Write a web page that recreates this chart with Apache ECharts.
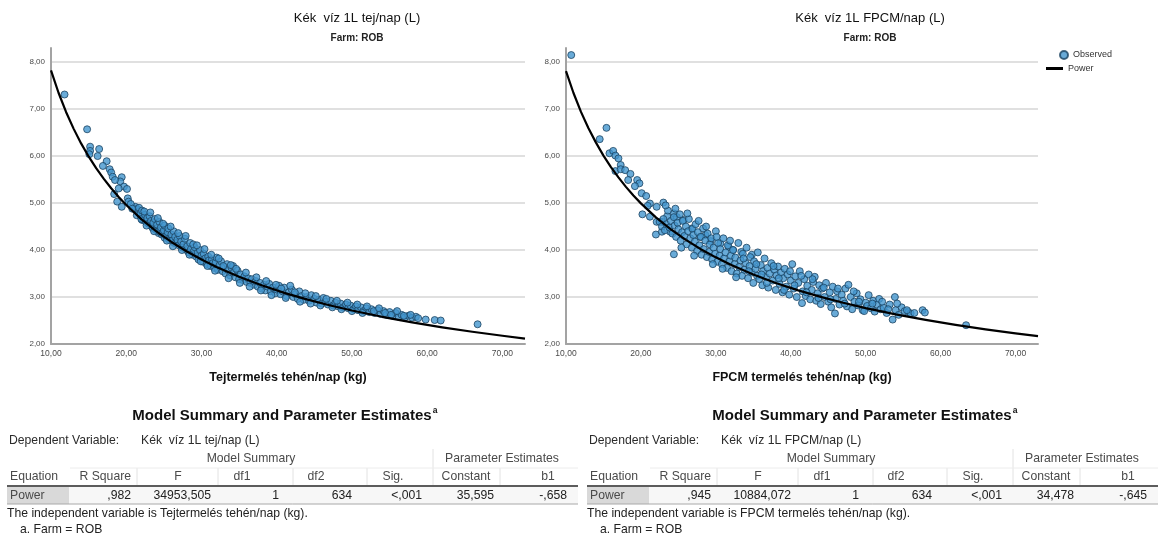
<!DOCTYPE html>
<html><head><meta charset="utf-8">
<script src="https://cdn.jsdelivr.net/npm/echarts@6/dist/echarts.min.js"></script>
<style>html,body{margin:0;padding:0;background:#fff}#c{width:1162px;height:558px}</style>
</head><body><div id="c"></div>
<script>
// ---------------- DATA ----------------
const leftChartTitle = 'Kék  víz 1L tej/nap (L)';
const rightChartTitle = 'Kék  víz 1L FPCM/nap (L)';
const farmLabel = 'Farm: ROB';
const leftXName = 'Tejtermelés tehén/nap (kg)';
const rightXName = 'FPCM termelés tehén/nap (kg)';
const xTicks = [10, 20, 30, 40, 50, 60, 70];
const yTicks = [2, 3, 4, 5, 6, 7, 8];
const legendNames = ['Observed', 'Power'];

const tejObserved = [
 [11.8,7.31],[14.8,6.57],[15.2,6.20],[15.2,6.11],[15.1,6.04],[16.4,6.15],[16.2,6.00],[17.4,5.89],[16.9,5.79],[17.8,5.72],
 [18.0,5.65],[18.2,5.56],[19.4,5.55],[19.2,5.46],[18.5,5.49],[19.7,5.35],[20.1,5.30],[19.0,5.31],[18.4,5.19],[18.8,5.03],
 [19.4,4.92],[20.2,5.10],[20.3,5.03],[21.0,4.89],[21.2,4.92],[21.5,4.87],[21.4,4.74],[21.9,4.74],[22.2,4.74],[22.1,4.64],
 [22.3,4.64],[22.9,4.57],[23.4,4.50],[23.5,4.47],[23.9,4.43],[24.3,4.36],[24.7,4.33],[25.1,4.26],[25.7,4.22],[26.4,4.15],
 [20.6,4.98],[20.8,4.88],[21.7,4.90],[21.9,4.78],[22.0,4.66],[22.1,4.84],[22.5,4.75],[22.6,4.60],[22.8,4.68],[23.0,4.56],
 [23.1,4.72],[23.3,4.62],[23.6,4.58],[23.8,4.66],[24.0,4.45],[24.1,4.54],[24.3,4.40],[24.4,4.60],[24.6,4.48],[24.8,4.36],
 [25.0,4.42],[25.1,4.52],[25.3,4.30],[25.5,4.38],[25.6,4.46],[25.8,4.25],[26.0,4.33],[26.1,4.20],[26.3,4.40],[26.5,4.28],
 [26.6,4.15],[26.8,4.22],[27.0,4.10],[27.1,4.30],[27.3,4.18],[27.5,4.05],[27.6,4.12],[27.8,4.24],[28.0,4.00],[28.1,4.08],
 [28.3,3.95],[28.5,4.15],[28.6,4.02],[28.8,3.90],[29.0,3.98],[29.1,4.06],[29.3,3.86],[29.5,3.94],[29.6,3.80],[29.8,4.00],
 [30.0,3.88],[30.2,3.75],[30.3,3.92],[30.5,3.82],[30.7,3.70],[30.9,3.86],[31.0,3.78],[31.2,3.66],[31.4,3.80],[31.5,3.72],
 [31.7,3.62],[31.9,3.74],[32.0,3.84],[32.2,3.58],[32.4,3.68],[32.6,3.76],[32.8,3.55],[33.0,3.64],[33.2,3.50],[33.4,3.70],
 [33.5,3.58],[33.8,3.46],[34.0,3.62],[34.2,3.66],[34.3,3.52],[34.5,3.42],[34.8,3.56],[35.0,3.38],[35.2,3.48],[35.5,3.36],
 [35.7,3.44],[36.0,3.32],[36.2,3.40],[36.5,3.30],[36.7,3.38],[37.0,3.26],[37.2,3.34],[37.5,3.22],[37.8,3.30],[38.0,3.18],
 [38.3,3.26],[38.5,3.14],[38.8,3.22],[39.0,3.28],[39.2,3.12],[39.5,3.20],[39.8,3.08],[40.0,3.16],[40.3,3.24],[40.5,3.06],
 [40.8,3.12],[41.0,3.20],[41.3,3.02],[41.6,3.10],[42.0,3.16],[42.2,3.00],[42.5,3.06],[42.8,2.96],[43.0,3.12],[43.3,3.02],
 [43.6,2.94],[44.0,3.00],[44.3,2.92],[44.6,3.04],[45.0,2.96],[45.3,2.88],[45.6,2.94],[46.0,2.86],[46.2,2.98],[46.5,2.90],
 [46.8,2.84],[47.2,2.92],[47.5,2.82],[47.8,2.88],[48.2,2.80],[48.5,2.86],[48.8,2.78],[49.2,2.84],[49.5,2.76],[49.8,2.82],
 [50.2,2.74],[50.5,2.80],[50.8,2.72],[51.2,2.78],[51.5,2.70],[51.9,2.76],[52.3,2.68],[52.6,2.74],[53.0,2.66],[53.4,2.72],
 [53.8,2.64],[54.2,2.70],[54.6,2.62],[55.0,2.68],[55.4,2.60],[55.8,2.66],[56.2,2.58],[56.6,2.62],[57.0,2.56],[57.5,2.60],
 [58.0,2.56],[58.5,2.58],[59.8,2.52],[61.0,2.51],[61.8,2.50],[66.7,2.42],
 [22.4,4.82],[22.7,4.52],[23.2,4.80],[23.7,4.40],[24.2,4.68],[24.9,4.56],[25.4,4.20],[25.9,4.50],[26.2,4.08],[26.9,4.36],
 [27.4,4.00],[27.9,4.30],[28.4,3.90],[28.9,4.12],[29.4,4.10],[29.9,3.76],[30.4,4.02],[30.8,3.66],[31.3,3.90],[31.8,3.56],
 [32.3,3.82],[32.9,3.66],[33.6,3.40],[33.9,3.68],[34.6,3.60],[35.1,3.30],[35.9,3.52],[36.4,3.22],[37.3,3.42],[37.9,3.14],
 [38.6,3.34],[39.3,3.04],[39.9,3.26],[40.6,3.18],[41.2,2.98],[41.8,3.24],[42.4,3.10],[43.1,2.90],[43.8,3.08],[44.5,2.86],
 [45.2,3.02],[45.8,2.82],[46.6,2.96],[47.4,2.78],[48.0,2.92],[48.6,2.74],[49.4,2.88],[50.0,2.70],[50.7,2.84],[51.4,2.66],
 [52.0,2.80],[52.9,2.70],[53.6,2.76],[54.4,2.66],[55.2,2.62],[56.0,2.70],[56.9,2.60],[57.8,2.62],[58.8,2.55]
];
const tejPower = [
 [10,7.824],[11,7.348],[12,6.939],[13,6.584],[14,6.270],[15,5.992],[16,5.743],[17,5.519],[18,5.314],[19,5.129],[20,4.959],
 [22,4.657],[24,4.398],[26,4.172],[28,3.974],[30,3.797],[32,3.640],[35,3.431],[38,3.251],[41,3.089],[44,2.950],[47,2.826],
 [50,2.713],[54,2.579],[58,2.461],[62,2.355],[66,2.261],[70,2.175],[73,2.115]
];

const fpcmObserved = [
 [10.7,8.15],[14.5,6.36],[15.4,6.60],[15.8,6.06],[16.3,6.11],[16.6,6.01],[17.0,5.95],[17.3,5.81],[16.6,5.68],[17.3,5.72],
 [17.9,5.70],[18.6,5.62],[18.3,5.49],[19.5,5.49],[19.8,5.42],[19.2,5.36],[20.1,5.21],[20.7,5.15],[21.2,4.99],[20.9,4.94],
 [22.1,4.92],[23.0,5.01],[20.2,4.76],[21.2,4.71],[22.1,4.60],[22.8,4.60],[23.5,4.72],[24.4,4.78],[24.8,4.70],[25.7,4.64],
 [22.0,4.33],[22.8,4.39],[23.9,4.39],[24.4,3.91],[26.8,4.46],[27.9,4.28],[28.6,4.32],[29.3,4.19],[30.6,4.14],[31.7,4.07],
 [32.3,4.00],[33.4,3.96],[34.8,3.90],
 [22.5,4.60],[22.8,4.50],[23.0,4.66],[23.2,4.42],[23.4,4.55],[23.6,4.84],[23.8,4.48],[24.0,4.62],[24.2,4.35],[24.4,4.70],
 [24.5,4.52],[24.7,4.28],[24.9,4.58],[25.0,4.44],[25.2,4.76],[25.3,4.20],[25.5,4.38],[25.6,4.62],[25.8,4.30],[26.0,4.50],
 [26.1,4.12],[26.3,4.40],[26.4,4.66],[26.6,4.25],[26.8,4.05],[26.9,4.45],[27.0,4.32],[27.2,4.18],[27.3,4.55],[27.5,3.98],
 [27.6,4.38],[27.8,4.10],[28.0,4.28],[28.1,3.90],[28.3,4.46],[28.4,4.02],[28.6,4.20],[28.8,3.85],[28.9,4.35],[29.1,3.96],
 [29.2,4.12],[29.4,4.25],[29.5,3.80],[29.7,4.05],[29.9,3.92],[30.0,4.40],[30.2,3.75],[30.3,4.15],[30.5,3.88],[30.6,4.02],
 [30.8,3.70],[31.0,4.25],[31.1,3.82],[31.3,3.95],[31.5,3.62],[31.6,4.10],[31.8,3.76],[32.0,3.88],[32.1,3.55],[32.3,4.00],
 [32.5,3.70],[32.6,3.84],[32.8,3.50],[33.0,4.15],[33.1,3.64],[33.3,3.78],[33.5,3.45],[33.6,3.92],[33.8,3.58],[34.0,3.72],
 [34.1,4.05],[34.3,3.40],[34.5,3.66],[34.6,3.85],[34.8,3.52],[35.0,3.30],[35.1,3.76],[35.3,3.60],[35.5,3.45],[35.6,3.95],
 [35.8,3.38],[36.0,3.68],[36.2,3.25],[36.3,3.55],[36.5,3.82],[36.7,3.42],[36.9,3.62],[37.0,3.20],[37.2,3.50],[37.4,3.72],
 [37.6,3.35],[37.8,3.58],[38.0,3.15],[38.1,3.46],[38.3,3.65],[38.5,3.28],[38.7,3.52],[38.9,3.10],[39.0,3.40],[39.2,3.60],
 [39.4,3.22],[39.6,3.48],[39.8,3.05],[40.0,3.35],[40.2,3.70],[40.4,3.18],[40.6,3.44],[40.8,3.00],[41.0,3.30],[41.2,3.55],
 [41.5,2.87],[41.6,3.12],[41.8,3.38],[42.0,3.02],[42.2,3.24],[42.4,3.48],[42.6,2.95],[42.8,3.15],[43.0,3.32],[43.2,3.43],
 [43.4,2.92],[43.6,3.08],[43.8,3.25],[44.0,2.85],[44.2,3.18],[44.5,3.00],[44.7,3.30],[45.0,2.90],[45.2,3.10],[45.4,2.78],
 [45.6,3.22],[45.9,2.65],[46.0,2.96],[46.2,3.12],[46.5,2.84],[46.8,3.05],[47.0,2.92],[47.3,3.18],[47.5,2.80],[47.7,3.26],
 [48.0,3.00],[48.2,2.74],[48.5,2.90],[48.8,3.08],[49.0,2.82],[49.3,2.95],[49.6,2.72],[50.0,2.88],[50.2,2.81],[50.4,3.04],
 [50.7,2.76],[51.0,2.92],[51.2,2.69],[51.5,2.84],[51.8,2.96],[52.0,2.74],[52.4,2.77],[52.8,2.66],[53.2,2.84],[53.6,2.52],
 [53.9,3.00],[54.0,2.72],[54.4,2.62],[54.8,2.78],[55.2,2.70],[55.7,2.68],[56.0,2.65],[57.6,2.72],[57.9,2.67],[63.4,2.40],
 [23.3,4.95],[24.6,4.88],[25.4,4.05],[26.2,4.78],[27.1,3.88],[27.7,4.62],[28.7,4.50],[29.6,3.70],[30.1,4.28],[30.9,3.60],
 [31.9,4.20],[32.7,3.42],[33.7,3.82],[34.4,3.55],[35.4,3.70],[36.1,3.48],[36.8,3.30],[37.7,3.66],[38.4,3.40],[39.1,3.15],
 [39.9,3.55],[40.5,3.25],[41.4,3.45],[42.1,3.10],[42.9,3.38],[43.7,2.98],[44.4,3.20],[45.3,2.95],[46.3,3.18],[47.2,2.86],
 [48.4,3.12],[49.1,2.90],[49.8,2.70],[50.9,2.86],[52.2,2.90],[53.0,2.74],[54.2,2.86],[55.5,2.72],[56.5,2.66]
];
const fpcmPower = [
 [10,7.807],[11,7.342],[12,6.940],[13,6.592],[14,6.286],[15,6.010],[16,5.766],[17,5.545],[18,5.344],[19,5.161],[20,4.993],
 [22,4.695],[24,4.439],[26,4.216],[28,4.018],[30,3.844],[32,3.687],[35,3.480],[38,3.300],[41,3.142],[44,3.002],[47,2.877],
 [50,2.765],[54,2.631],[58,2.512],[62,2.407],[66,2.311],[70,2.225],[73,2.166]
];

// table texts
const tableTitle = 'Model Summary and Parameter Estimates';
const tableTitleNote = 'a';
const tableGroupHeaders = ['Model Summary', 'Parameter Estimates'];
const tableHeaders = ['Equation', 'R Square', 'F', 'df1', 'df2', 'Sig.', 'Constant', 'b1'];
const dependentLabel = 'Dependent Variable:';
const leftDependent = 'Kék  víz 1L tej/nap (L)';
const rightDependent = 'Kék  víz 1L FPCM/nap (L)';
const leftRow = ['Power', ',982', '34953,505', '1', '634', '<,001', '35,595', '-,658'];
const rightRow = ['Power', ',945', '10884,072', '1', '634', '<,001', '34,478', '-,645'];
const leftNote = 'The independent variable is Tejtermelés tehén/nap (kg).';
const rightNote = 'The independent variable is FPCM termelés tehén/nap (kg).';
const footNote = 'a. Farm = ROB';

// ---------------- CHART ----------------
const FONT = '"Liberation Sans", Arial, sans-serif';
const fmt = v => v.toFixed(2).replace('.', ',');

function xAxisCfg(gi, name) {
  return {
    gridIndex: gi, type: 'value', min: 10, max: 73, interval: 10,
    axisLine: { show: true, onZero: false, lineStyle: { color: '#a3a3a3', width: 2 } },
    axisTick: { show: false }, splitLine: { show: false },
    axisLabel: { formatter: v => xTicks.includes(v) ? fmt(v) : '', color: '#4a4a4a', fontSize: 8.5, fontFamily: FONT, margin: 5, showMaxLabel: false },
    name: name, nameLocation: 'middle', nameGap: 27,
    nameTextStyle: { color: '#111', fontSize: 12.5, fontWeight: 'bold', fontFamily: FONT }
  };
}
function yAxisCfg(gi) {
  return {
    gridIndex: gi, type: 'value', min: 2, max: 8.3, interval: 1,
    axisLine: { show: true, onZero: false, lineStyle: { color: '#a3a3a3', width: 2 } },
    axisTick: { show: false },
    splitLine: { show: true, showMinLine: false, showMaxLine: false, lineStyle: { color: '#d6d6d6', width: 1.5 } },
    axisLabel: { formatter: v => yTicks.includes(v) ? fmt(v) : '', color: '#4a4a4a', fontSize: 8, fontFamily: FONT, margin: 6, showMaxLabel: false }
  };
}
const scatterStyle = { color: '#4496ce', borderColor: '#1c4361', borderWidth: 1 };
function scatter(xi, data) {
  return { name: legendNames[0], type: 'scatter', xAxisIndex: xi, yAxisIndex: xi, data: data,
    symbol: 'circle', symbolSize: 7, itemStyle: scatterStyle, z: 2, silent: true };
}
function curve(xi, data) {
  return { name: legendNames[1], type: 'line', xAxisIndex: xi, yAxisIndex: xi, data: data,
    smooth: false, showSymbol: false, symbol: 'none',
    lineStyle: { color: '#000', width: 2.2, join: 'round' }, itemStyle: { color: '#000' }, z: 3, silent: true };
}

const measureCtx = document.createElement('canvas').getContext('2d');
function textWidth(text, size, weight) {
  measureCtx.font = (weight || 'normal') + ' ' + size + 'px ' + FONT;
  return measureCtx.measureText(text).width;
}
function txt(x, y, text, size, opts) {
  opts = opts || {};
  return { type: 'text', x: x, y: y, silent: true, z: 10,
    style: { text: text, fill: opts.color || '#2b2b2b', fontSize: size, fontFamily: FONT,
      fontWeight: opts.weight || 'normal', align: opts.align || 'left', verticalAlign: 'middle' } };
}
function rect(x, y, w, h, color) {
  return { type: 'rect', shape: { x: x, y: y, width: w, height: h }, style: { fill: color }, silent: true, z: 5 };
}
function hline(x1, x2, y, color, w) {
  return { type: 'line', shape: { x1: x1, y1: y, x2: x2, y2: y }, style: { stroke: color, lineWidth: w }, silent: true, z: 6 };
}
function vline(x, y1, y2, color) {
  return { type: 'line', shape: { x1: x, y1: y1, x2: x, y2: y2 }, style: { stroke: color, lineWidth: 1 }, silent: true, z: 6 };
}

function tableGraphics(ox, dep, row, note) {
  const g = [];
  const yT = 416, yDep = 441, yH1 = 459, yH2 = 477, yLine = 486, yBot = 504, yNote = 514, yFoot = 530;
  const yRow = (yLine + yBot) / 2 + 0.5;
  const fs = 12.2;
  const tw = textWidth(tableTitle, 15, 'bold');
  g.push(txt(ox + 282, yT, tableTitle, 15, { align: 'center', weight: 'bold', color: '#111' }));
  g.push(txt(ox + 282 + tw / 2 + 1, yT - 5, tableTitleNote, 8.5, { weight: 'bold', color: '#111' }));
  g.push(txt(ox + 9, yDep, dependentLabel, fs, {}));
  g.push(txt(ox + 141, yDep, dep, fs, {}));
  // header separators
  [137, 218, 293, 367, 500].forEach(x => g.push(vline(ox + x, yH2 - 9, yLine - 1, '#e2e2e2')));
  g.push(vline(ox + 433, yH1 - 10, yLine - 1, '#e2e2e2'));
  g.push(hline(ox + 70, ox + 578, yH1 + 9, '#ececec', 1));
  g.push(txt(ox + 251, yH1, tableGroupHeaders[0], fs, { align: 'center', color: '#4a4a4a' }));
  g.push(txt(ox + 502, yH1, tableGroupHeaders[1], fs, { align: 'center', color: '#4a4a4a' }));
  const hx = [[10, 'left'], [131, 'right'], [178, 'center'], [242, 'center'], [316, 'center'], [393, 'center'], [466, 'center'], [548, 'center']];
  tableHeaders.forEach((h, i) => g.push(txt(ox + hx[i][0], yH2, h, fs, { align: hx[i][1], color: '#4a4a4a' })));
  // data row
  g.push(rect(ox + 7, yLine, 62, yBot - yLine, '#d9d9d9'));
  g.push(rect(ox + 69, yLine, 509, yBot - yLine, '#f7f7f7'));
  g.push(hline(ox + 7, ox + 578, yLine, '#5c5c5c', 2));
  g.push(hline(ox + 7, ox + 578, yBot, '#a8a8a8', 1));
  const vx = [131, 211, 279, 352, 422, 494, 567];
  g.push(txt(ox + 10, yRow, row[0], fs, { color: '#4a4a4a' }));
  for (let i = 1; i < row.length; i++) g.push(txt(ox + vx[i - 1], yRow, row[i], fs, { align: 'right', color: '#222' }));
  g.push(txt(ox + 7, yNote, note, fs, { color: '#222' }));
  g.push(txt(ox + 20, yFoot, footNote, fs, { color: '#222' }));
  return g;
}

const graphics = [
  txt(357, 18, leftChartTitle, 13, { align: 'center', color: '#111' }),
  txt(357, 38, farmLabel, 10, { align: 'center', weight: 'bold', color: '#222' }),
  txt(870, 18, rightChartTitle, 13, { align: 'center', color: '#111' }),
  txt(870, 38, farmLabel, 10, { align: 'center', weight: 'bold', color: '#222' })
].concat(tableGraphics(0, leftDependent, leftRow, leftNote))
 .concat(tableGraphics(580, rightDependent, rightRow, rightNote));

const chart = echarts.init(document.getElementById('c'), null, { renderer: 'canvas' });
chart.setOption({
  animation: false,
  backgroundColor: '#ffffff',
  grid: [
    { left: 51, top: 48, width: 474, height: 296 },
    { left: 566, top: 48, width: 472, height: 296 }
  ],
  xAxis: [xAxisCfg(0, leftXName), xAxisCfg(1, rightXName)],
  yAxis: [yAxisCfg(0), yAxisCfg(1)],
  legend: [
    { data: [{ name: legendNames[0], icon: 'circle' }], left: 1059, top: 50, orient: 'vertical', padding: 0,
      itemWidth: 8, itemHeight: 8, itemGap: 2, selectedMode: false,
      textStyle: { fontSize: 9, color: '#333', fontFamily: FONT } },
    { data: [{ name: legendNames[1], icon: 'rect' }], left: 1046, top: 64, orient: 'vertical', padding: 0,
      itemWidth: 17, itemHeight: 3, itemGap: 2, selectedMode: false,
      textStyle: { fontSize: 9, color: '#333', fontFamily: FONT } }
  ],
  series: [scatter(0, tejObserved), curve(0, tejPower), scatter(1, fpcmObserved), curve(1, fpcmPower)],
  graphic: graphics
});
</script></body></html>
